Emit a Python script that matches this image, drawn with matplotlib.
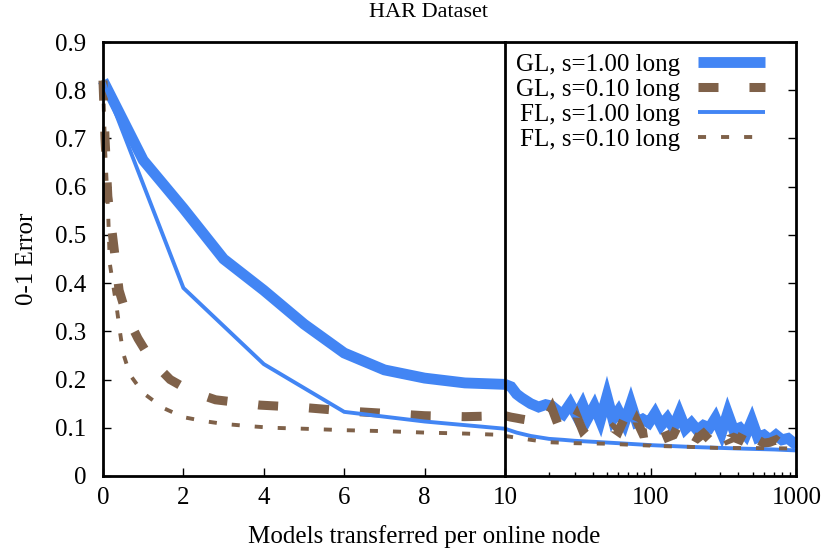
import numpy as np
import matplotlib
matplotlib.use("Agg")
import matplotlib.pyplot as plt

plt.rcParams['font.family'] = ['Liberation Serif', 'DejaVu Serif']
plt.rcParams['lines.scale_dashes'] = False

BLUE = '#4285f4'
BROWN = '#7f6149'

# ---- left panel (linear, 0..10) ----
gl1_x = [0, 1, 2, 3, 4, 5, 6, 7, 8, 9, 10]
gl1_y = [0.82, 0.655, 0.555, 0.45, 0.385, 0.315, 0.255, 0.22, 0.203, 0.193, 0.19]

gl01_x = [0, 0.05, 0.12, 0.25, 0.4, 0.6, 0.87, 1.2, 1.67, 2.2, 2.8, 3.9, 5, 6, 7, 8, 9, 10]
gl01_y = [0.82, 0.70, 0.58, 0.49, 0.385, 0.33, 0.285, 0.24, 0.2, 0.175, 0.158, 0.147,
          0.142, 0.135, 0.13, 0.125, 0.123, 0.125]

fl1_x = [0, 2, 4, 6, 8, 10]
fl1_y = [0.82, 0.39, 0.232, 0.133, 0.113, 0.098]

fl01_x = [0, 0.05, 0.13, 0.17, 0.34, 0.42, 0.5, 0.67, 1.0, 1.5, 2, 2.5, 3, 3.7, 4.2,
          5, 6, 7, 8, 9, 10]
fl01_y = [0.82, 0.68, 0.54, 0.44, 0.35, 0.30, 0.255, 0.21, 0.172, 0.141, 0.122, 0.114,
          0.108, 0.103, 0.10, 0.098, 0.095, 0.093, 0.09, 0.088, 0.085]

# ---- right panel (log, 10..1000) ----
r_x = [10, 11, 12, 13, 15, 17, 19, 21, 23, 25, 28, 31, 34, 37, 41, 45, 50, 55, 60, 66,
       73, 80, 88, 97, 107, 118, 130, 143, 157, 173, 190, 209, 230, 253, 278, 306, 337,
       371, 408, 449, 494, 543, 597, 657, 723, 795, 875, 962, 1000]
gl1_r = [0.19, 0.185, 0.17, 0.162, 0.15, 0.143, 0.148, 0.145, 0.135, 0.128, 0.15, 0.125,
         0.148, 0.12, 0.145, 0.115, 0.165, 0.118, 0.135, 0.11, 0.15, 0.112, 0.118, 0.11,
         0.13, 0.105, 0.12, 0.1, 0.13, 0.098, 0.11, 0.095, 0.105, 0.1, 0.12, 0.09, 0.13,
         0.095, 0.1, 0.085, 0.115, 0.08, 0.085, 0.075, 0.085, 0.075, 0.078, 0.068, 0.07]
gl01_r = [0.125, 0.122, 0.12, 0.118, 0.115, 0.11, 0.115, 0.14, 0.108, 0.115, 0.1, 0.125,
          0.095, 0.105, 0.098, 0.1, 0.09, 0.1, 0.092, 0.12, 0.09, 0.115, 0.088, 0.09,
          0.085, 0.11, 0.08, 0.085, 0.11, 0.08, 0.085, 0.078, 0.088, 0.075, 0.09, 0.1,
          0.075, 0.08, 0.075, 0.1, 0.07, 0.075, 0.068, 0.07, 0.075, 0.065, 0.07, 0.063,
          0.065]
fl1_rx = [10, 12, 15, 20, 25, 30, 40, 60, 100, 200, 400, 700, 1000]
fl1_r = [0.098, 0.09, 0.083, 0.077, 0.075, 0.073, 0.071, 0.068, 0.064, 0.06, 0.057,
         0.055, 0.053]
fl01_rx = [10, 15, 20, 30, 50, 70, 100, 110, 120, 200, 300, 500, 1000]
fl01_r = [0.083, 0.075, 0.07, 0.068, 0.067, 0.065, 0.063, 0.055, 0.062, 0.06, 0.058,
          0.058, 0.057]

labels = ['GL, s=1.00 long', 'GL, s=0.10 long', 'FL, s=1.00 long', 'FL, s=0.10 long']
yticks = [0, 0.1, 0.2, 0.3, 0.4, 0.5, 0.6, 0.7, 0.8, 0.9]
ytick_labels = ['0', '0.1', '0.2', '0.3', '0.4', '0.5', '0.6', '0.7', '0.8', '0.9']

styles = [
    dict(color=BLUE, lw=7.8, solid_joinstyle='miter', solid_capstyle='butt'),
    dict(color=BROWN, lw=6.5, dashes=(14.4, 22.3), dash_joinstyle='miter',
         dash_capstyle='butt'),
    dict(color=BLUE, lw=2.8, solid_joinstyle='miter', solid_capstyle='butt'),
    dict(color=BROWN, lw=2.8, dashes=(5.8, 10.8), dash_capstyle='butt'),
]

fig = plt.figure(figsize=(8.24, 5.52), dpi=100)
axl = fig.add_axes([0.125, 0.1377, 0.4879, 0.7862])
axr = fig.add_axes([0.6129, 0.1377, 0.3537, 0.7862])

left_series = [(gl1_x, gl1_y), (gl01_x, gl01_y), (fl1_x, fl1_y), (fl01_x, fl01_y)]
right_series = [(r_x, gl1_r), (r_x, gl01_r), (fl1_rx, fl1_r), (fl01_rx, fl01_r)]

handles = []
for (x, y), st, lab in zip(left_series, styles, labels):
    h, = axl.plot(x, y, label=lab, clip_on=False, **st)
    handles.append(h)
for (x, y), st in zip(right_series, styles):
    axr.plot(x, y, **st)

for ax in (axl, axr):
    ax.set_ylim(0, 0.9)
    for s in ax.spines.values():
        s.set_linewidth(2.0)
    ax.tick_params(direction='in', labelsize=18, width=1.0, length=6, pad=8)
    ax.tick_params(which='minor', direction='in', width=1.0, length=3)

axl.set_xlim(0, 10)
axl.set_xticks([0, 2, 4, 6, 8, 10])
axl.set_xticklabels(['0', '2', '4', '6', '8', '10'])
axl.set_yticks(yticks)
axl.set_yticklabels(ytick_labels)
axl.tick_params(axis='y', pad=12)
axl.spines['right'].set_visible(False)

axr.set_xscale('log')
axr.set_xlim(10, 1000)
axr.set_xticks([10, 100, 1000])
axr.set_xticklabels(['', '100', '1000'])
axr.set_yticks(yticks)
axr.tick_params(axis='y', left=False, right=True, labelleft=False)

axl.set_ylabel('0-1 Error', fontsize=18, labelpad=12)
fig.text(0.515, 0.028, 'Models transferred per online node', fontsize=18,
         ha='center', va='center')
fig.text(0.52, 0.978, 'HAR Dataset', fontsize=16, ha='center', va='center')

leg = axr.legend(handles, labels, loc='upper right', bbox_to_anchor=(1.0, 1.0),
                 markerfirst=False, frameon=False, fontsize=18, handlelength=2.7,
                 handletextpad=0.7, labelspacing=0.1, borderaxespad=1.05,
                 borderpad=0.2)
# pull it in from the right but keep the top close to the frame
leg.set_bbox_to_anchor((1.0, 1.045), transform=axr.transAxes)

fig.savefig('out.png', dpi=100)
